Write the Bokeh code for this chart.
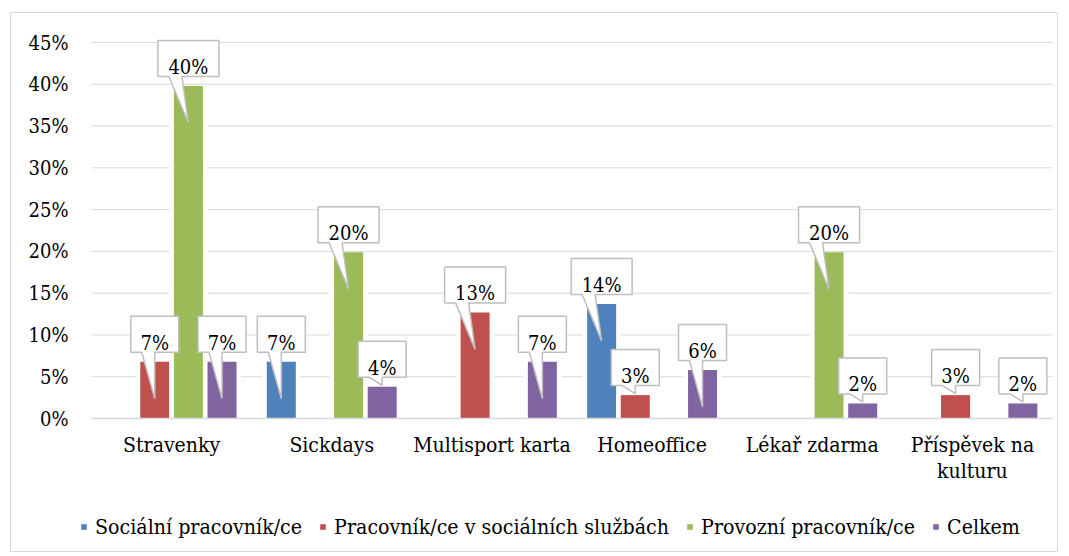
from bokeh.plotting import figure
from bokeh.models import Range1d, FixedTicker, Legend, LegendItem
from bokeh.embed import file_html
from bokeh.resources import INLINE
from bokeh.core.properties import value

# ---- data ----
categories = ["Stravenky", "Sickdays", "Multisport karta", "Homeoffice",
              "Lékař zdarma", "Příspěvek na\nkulturu"]
series_names = ["Sociální pracovník/ce", "Pracovník/ce v sociálních službách",
                "Provozní pracovník/ce", "Celkem"]
socialni = [0, 6.8, 0, 13.7, 0, 0]
pracovnik_ss = [6.8, 0, 12.7, 2.8, 0, 2.8]
provozni = [39.8, 19.9, 0, 0, 19.9, 0]
celkem = [6.8, 3.8, 6.8, 5.8, 1.8, 1.8]
y_ticks = [0, 5, 10, 15, 20, 25, 30, 35, 40, 45]
y_tick_labels = ["0%", "5%", "10%", "15%", "20%", "25%", "30%", "35%", "40%", "45%"]

series = [socialni, pracovnik_ss, provozni, celkem]
colors = ["#4F81BD", "#C0504D", "#9BBB59", "#8064A2"]

FONT = "DejaVu Serif Condensed"

N = len(categories)
SLOT = 961 / N                 # pixels per category slot
XU = 1.0 / SLOT                # x units per pixel
PX = 376 / 45.0                # pixels per percent
FW, FH = 1046, 538
X0 = -80 * XU
X1 = N + 5 * XU
Y1 = 405 / PX
Y0 = -133 / PX

p = figure(x_range=Range1d(X0, X1), y_range=Range1d(Y0, Y1),
           frame_width=FW, frame_height=FH,
           min_border_left=0, min_border_right=0, min_border_top=0, min_border_bottom=0,
           output_backend="svg", toolbar_location=None,
           background_fill_color="white", border_fill_color="white",
           outline_line_color=None)
p.styles = {"margin-left": "10px", "margin-top": "12px", "border": "1px solid #d9d9d9"}
p.xgrid.grid_line_color = None
p.ygrid.grid_line_color = None

# y axis
p.yaxis.fixed_location = 0
p.yaxis.ticker = FixedTicker(ticks=y_ticks)
p.yaxis.major_label_overrides = {t: l for t, l in zip(y_ticks, y_tick_labels)}
p.yaxis.axis_line_color = None
p.yaxis.major_tick_line_color = None
p.yaxis.minor_tick_line_color = None
p.yaxis.major_tick_out = 0
p.yaxis.major_label_standoff = 23
p.yaxis.major_label_text_font = FONT
p.yaxis.major_label_text_font_size = "20px"
p.yaxis.major_label_text_color = "black"

# x axis
p.xaxis.fixed_location = 0
p.xaxis.bounds = (0, N)
p.xaxis.ticker = FixedTicker(ticks=[i + 0.5 for i in range(N)])
p.xaxis.major_label_overrides = {i + 0.5: c for i, c in enumerate(categories)}
p.xaxis.axis_line_color = "#d9d9d9"
p.xaxis.axis_line_width = 1.5
p.xaxis.major_tick_line_color = None
p.xaxis.minor_tick_line_color = None
p.xaxis.major_tick_out = 0
p.xaxis.major_label_standoff = 14
p.xaxis.major_label_text_font = FONT
p.xaxis.major_label_text_font_size = "21px"
p.xaxis.major_label_text_color = "black"
p.xaxis.major_label_text_line_height = 1.1

# gridlines
p.segment(x0=[0] * len(y_ticks), x1=[N] * len(y_ticks), y0=y_ticks, y1=y_ticks,
          line_color="#d9d9d9", line_width=1)

offsets = [-0.315, -0.105, 0.105, 0.315]
bar_w = 29 * XU
halo_w = 38 * XU

renderers = []
for vals, col, off in zip(series, colors, offsets):
    xs = [i + 0.5 + off for i, v in enumerate(vals) if v > 0]
    tops = [v for v in vals if v > 0]
    p.vbar(x=xs, top=tops, width=halo_w, bottom=0, fill_color="white", line_color=None)
    r = p.vbar(x=xs, top=tops, width=bar_w, bottom=0, fill_color=col, line_color=None)
    renderers.append(r)

# callouts
pxs, pys, tx, ty, tt = [], [], [], [], []
for vals, off in zip(series, offsets):
    for i, v in enumerate(vals):
        if v <= 0:
            continue
        label = "%d%%" % round(v)
        cx = i + 0.5 + off
        w_px = 48 if len(label) == 2 else 61
        hw = w_px / 2 * XU
        cy = v + 27.5 / PX
        top = cy + 18 / PX
        bot = cy - 18 / PX
        bl = cx - hw + 11 * XU
        br = cx - hw + 24 * XU
        if v * PX - 37 >= 8:
            tip = v - 37 / PX
        else:
            tip = v + 1.5 / PX
        pxs.append([cx - hw, cx + hw, cx + hw, br, cx, bl, cx - hw])
        pys.append([top, top, bot, bot, tip, bot, bot])
        tx.append(cx)
        ty.append(cy - 8.5 / PX)
        tt.append(label)

p.patches(xs=pxs, ys=pys, fill_color="white", line_color="#bfbfbf", line_width=1.5)
p.text(x=tx, y=ty, text=tt, text_align="center", text_baseline="alphabetic",
       text_font=value(FONT), text_font_size="20px", text_color="black")

legend = Legend(items=[LegendItem(label=n, renderers=[r]) for n, r in zip(series_names, renderers)],
                orientation="horizontal", location=(69, 12),
                glyph_width=7, glyph_height=7, label_standoff=8, spacing=17,
                padding=0, margin=0, border_line_color=None, background_fill_alpha=0,
                label_text_font=FONT, label_text_font_size="21.2px", label_text_color="black")
p.add_layout(legend)

open("out.html", "w").write(file_html(p, INLINE))
